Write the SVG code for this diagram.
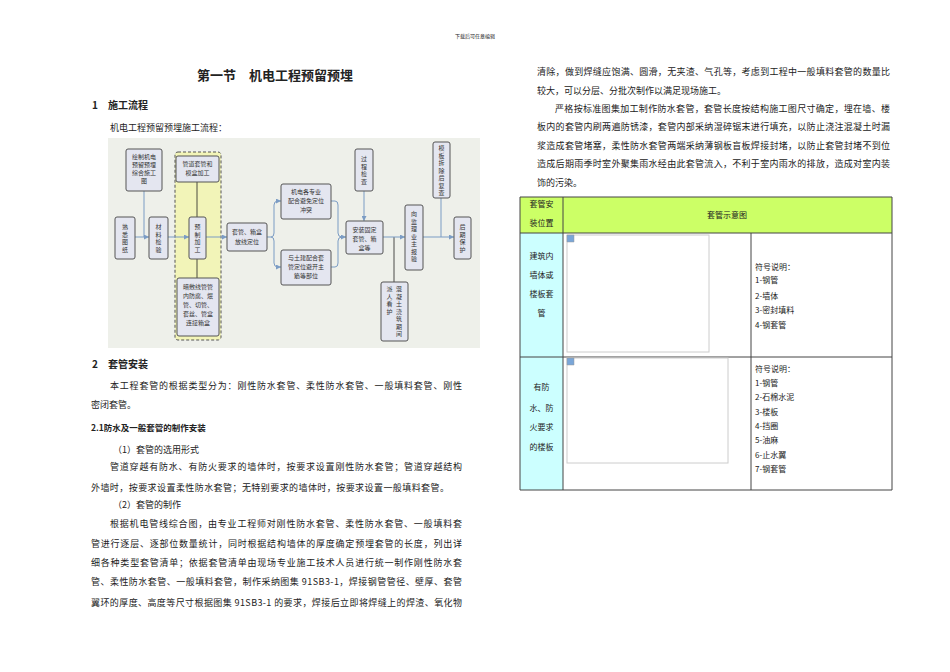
<svg xmlns="http://www.w3.org/2000/svg" width="950" height="672" viewBox="0 0 950 672">
<style>
text{font-family:"Noto Sans CJK SC","Liberation Serif",serif;fill:#222}
.b{font-size:9px}
.h{font-size:10px;font-weight:bold}
.s{font-size:8px}
.n rect{fill:#e4e6f0;stroke:#555;stroke-width:1}
.n text{font-size:6px;fill:#333;text-anchor:middle}
.c{fill:none;stroke:#7b9cc4;stroke-width:1}
.k{fill:none;stroke:#222;stroke-width:0.8}
.m{text-anchor:middle}
</style>
<defs>
<marker id="a" viewBox="0 0 6 6" refX="6" refY="3" markerWidth="5" markerHeight="5" orient="auto"><path d="M0,0L6,3L0,6z" fill="#7b9cc4"/></marker>
</defs>
<rect width="950" height="672" fill="#fff"/>
<text x="475" y="38" font-size="5" class="m">下载后可任意编辑</text>
<text x="275" y="80" font-size="13" font-weight="bold" class="m">第一节　机电工程预留预埋</text>
<text x="92" y="109" class="h">1　施工流程</text>
<text x="110" y="131" class="b">机电工程预留预埋施工流程：</text>
<rect x="108" y="138" width="372" height="210" fill="#eef0ea"/>
<rect x="175" y="152" width="46" height="188" rx="3" fill="#f2f4b8" stroke="#555" stroke-dasharray="3,2"/>
<g id="connectors">
<path class="k" d="M197,182V217M197,259V278M394,237V282"/>
<path class="c" d="M135,237H149" marker-end="url(#a)"/>
<path class="c" d="M144,191V237"/>
<path class="c" d="M168,237H189" marker-end="url(#a)"/>
<path class="c" d="M206,237H227" marker-end="url(#a)"/>
<path class="c" d="M267,237H271Q274,237 274,233V205Q274,201 278,201H281" marker-end="url(#a)"/>
<path class="c" d="M271,237Q274,237 274,241V263Q274,267 278,267H281" marker-end="url(#a)"/>
<path class="c" d="M331,201H335Q338,201 338,205V233Q338,237 342,237H346" marker-end="url(#a)"/>
<path class="c" d="M331,267H335Q338,267 338,263V241Q338,237 342,237"/>
<path class="c" d="M364,191V221" marker-end="url(#a)"/>
<path class="c" d="M383,237H405" marker-end="url(#a)"/>
<path class="c" d="M423,237H454" marker-end="url(#a)"/>
<path class="c" d="M441,198V237"/>
</g>
<g id="n1" class="n"><rect x="115" y="217" width="20" height="42" rx="2"/><text y="229"><tspan x="125">熟</tspan><tspan x="125" dy="7.5">悉</tspan><tspan x="125" dy="7.5">图</tspan><tspan x="125" dy="7.5">纸</tspan></text></g>
<g id="n2" class="n"><rect x="126" y="149" width="36" height="42" rx="2"/><text x="144" y="159">绘制机电</text><text x="144" y="167">预留预埋</text><text x="144" y="175">综合施工</text><text x="144" y="183">图</text></g>
<g id="n3" class="n"><rect x="149" y="217" width="19" height="42" rx="2"/><text y="229"><tspan x="158.5">材</tspan><tspan x="158.5" dy="7.5">料</tspan><tspan x="158.5" dy="7.5">检</tspan><tspan x="158.5" dy="7.5">验</tspan></text></g>
<g id="n4" class="n"><rect x="176" y="156" width="43" height="26" rx="2"/><text x="197.5" y="166">管道套管和</text><text x="197.5" y="175">模盒加工</text></g>
<g id="n5" class="n"><rect x="189" y="217" width="17" height="42" rx="2"/><text y="229"><tspan x="197.5">预</tspan><tspan x="197.5" dy="7.5">制</tspan><tspan x="197.5" dy="7.5">加</tspan><tspan x="197.5" dy="7.5">工</tspan></text></g>
<g id="n6" class="n"><rect x="177" y="278" width="42" height="58" rx="2"/><text x="198" y="289">暗敷线管管</text><text x="198" y="298">内防腐、煨</text><text x="198" y="307">管、切管、</text><text x="198" y="316">套丝、管盒</text><text x="198" y="325">连接箱盒</text></g>
<g id="n7" class="n"><rect x="227" y="223" width="40" height="28" rx="2"/><text x="247" y="234">套管、箱盒</text><text x="247" y="244">放线定位</text></g>
<g id="n8" class="n"><rect x="281" y="184" width="50" height="35" rx="2"/><text x="306" y="194">机电各专业</text><text x="306" y="203">配合避免定位</text><text x="306" y="212">冲突</text></g>
<g id="n9" class="n"><rect x="281" y="250" width="50" height="35" rx="2"/><text x="306" y="260">与土建配合套</text><text x="306" y="269">管定位避开主</text><text x="306" y="278">筋等部位</text></g>
<g id="n10" class="n"><rect x="355" y="149" width="18" height="42" rx="2"/><text y="161"><tspan x="364">过</tspan><tspan x="364" dy="7.5">程</tspan><tspan x="364" dy="7.5">检</tspan><tspan x="364" dy="7.5">查</tspan></text></g>
<g id="n11" class="n"><rect x="346" y="221" width="37" height="33" rx="2"/><text x="364.5" y="232">安装固定</text><text x="364.5" y="241">套管、箱</text><text x="364.5" y="250">盒等</text></g>
<g id="n12" class="n"><rect x="381" y="282" width="27" height="59" rx="2"/><text y="291"><tspan x="399">混</tspan><tspan x="399" dy="7.5">凝</tspan><tspan x="399" dy="7.5">土</tspan><tspan x="399" dy="7.5">浇</tspan><tspan x="399" dy="7.5">筑</tspan><tspan x="399" dy="7.5">期</tspan><tspan x="399" dy="7.5">间</tspan></text><text y="291"><tspan x="389.5">派</tspan><tspan x="389.5" dy="7.5">人</tspan><tspan x="389.5" dy="7.5">看</tspan><tspan x="389.5" dy="7.5">护</tspan></text></g>
<g id="n13" class="n"><rect x="405" y="205" width="18" height="65" rx="2"/><text y="216"><tspan x="414">向</tspan><tspan x="414" dy="7.5">监</tspan><tspan x="414" dy="7.5">理</tspan><tspan x="414" dy="7.5">业</tspan><tspan x="414" dy="7.5">主</tspan><tspan x="414" dy="7.5">报</tspan><tspan x="414" dy="7.5">验</tspan></text></g>
<g id="n14" class="n"><rect x="433" y="142" width="17" height="56" rx="2"/><text y="150"><tspan x="441.5">模</tspan><tspan x="441.5" dy="7.5">板</tspan><tspan x="441.5" dy="7.5">拆</tspan><tspan x="441.5" dy="7.5">除</tspan><tspan x="441.5" dy="7.5">后</tspan><tspan x="441.5" dy="7.5">复</tspan><tspan x="441.5" dy="7.5">查</tspan></text></g>
<g id="n15" class="n"><rect x="454" y="217" width="17" height="42" rx="2"/><text y="229"><tspan x="462.5">后</tspan><tspan x="462.5" dy="7.5">期</tspan><tspan x="462.5" dy="7.5">保</tspan><tspan x="462.5" dy="7.5">护</tspan></text></g>

<text x="92" y="368" class="h">2　套管安装</text>
<text x="110" y="389" class="b" textLength="352">本工程套管的根据类型分为：刚性防水套管、柔性防水套管、一般填料套管、刚性</text>
<text x="91" y="408" class="b">密闭套管。</text>
<text x="91" y="431" font-size="8.5" font-weight="bold">2.1防水及一般套管的制作安装</text>
<text x="113" y="453" class="b">（1）套管的选用形式</text>
<text x="110" y="470" class="b" textLength="352">管道穿越有防水、有防火要求的墙体时，按要求设置刚性防水套管；管道穿越结构</text>
<text x="91" y="491" class="b" textLength="358">外墙时，按要求设置柔性防水套管；无特别要求的墙体时，按要求设置一般填料套管。</text>
<text x="113" y="508" class="b">（2）套管的制作</text>
<text x="110" y="527" class="b" textLength="352">根据机电管线综合图，由专业工程师对刚性防水套管、柔性防水套管、一般填料套</text>
<text x="91" y="547" class="b" textLength="371">管进行逐层、逐部位数量统计，同时根据结构墙体的厚度确定预埋套管的长度，列出详</text>
<text x="91" y="566" class="b" textLength="371">细各种类型套管清单；依据套管清单由现场专业施工技术人员进行统一制作刚性防水套</text>
<text x="91" y="585" class="b" textLength="371">管、柔性防水套管、一般填料套管，制作采纳图集 91SB3-1，焊接钢管管径、壁厚、套管</text>
<text x="91" y="606" class="b" textLength="371">翼环的厚度、高度等尺寸根据图集 91SB3-1 的要求，焊接后立即将焊缝上的焊渣、氧化物</text>

<text x="537" y="75" class="b" textLength="353">清除，做到焊缝应饱满、圆滑，无夹渣、气孔等，考虑到工程中一般填料套管的数量比</text>
<text x="537" y="94" class="b">较大，可以分层、分批次制作以满足现场施工。</text>
<text x="555" y="112" class="b" textLength="335">严格按标准图集加工制作防水套管，套管长度按结构施工图尺寸确定，埋在墙、楼</text>
<text x="537" y="130" class="b" textLength="353">板内的套管内刷两遍防锈漆，套管内部采纳湿碎锯末进行填充，以防止浇注混凝土时漏</text>
<text x="537" y="149" class="b" textLength="353">浆造成套管堵塞，柔性防水套管两端采纳薄钢板盲板焊接封堵，以防止套管封堵不到位</text>
<text x="537" y="167" class="b" textLength="353">造成后期雨季时室外聚集雨水经由此套管流入，不利于室内雨水的排放，造成对室内装</text>
<text x="537" y="186" class="b">饰的污染。</text>

<g id="table">
<rect x="520" y="197" width="372" height="36" fill="#ccff66"/>
<rect x="520" y="233" width="43" height="257" fill="#ccffff"/>
<path d="M520,197H892V490H520Z M520,233H892 M563,197V490 M520,357H892 M751,233V490" fill="none" stroke="#444" stroke-width="1"/>
<rect x="567" y="235" width="142" height="117" fill="#fff" stroke="#ccc"/>
<rect x="567" y="358" width="161" height="105" fill="#fff" stroke="#ccc"/>
<path d="M567,235h7v7h-7z" fill="#7aa6d8" stroke="#999" stroke-width="0.5"/>
<path d="M567,358h7v7h-7z" fill="#7aa6d8" stroke="#999" stroke-width="0.5"/>
<text x="541.5" y="207" class="s m">套管安</text>
<text x="541.5" y="226" class="s m">装位置</text>
<text x="727" y="218" class="s m">套管示意图</text>
<text x="541.5" y="259" class="s m">建筑内</text>
<text x="541.5" y="278" class="s m">墙体或</text>
<text x="541.5" y="297" class="s m">楼板套</text>
<text x="541.5" y="316" class="s m">管</text>
<text x="755" y="270" class="s">符号说明：</text>
<text x="755" y="283" class="s">1-钢管</text>
<text x="755" y="299" class="s">2-墙体</text>
<text x="755" y="313" class="s">3-密封填料</text>
<text x="755" y="328" class="s">4-钢套管</text>
<text x="541.5" y="390" class="s m">有防</text>
<text x="541.5" y="411" class="s m">水、防</text>
<text x="541.5" y="430" class="s m">火要求</text>
<text x="541.5" y="450" class="s m">的楼板</text>
<text x="755" y="372" class="s">符号说明：</text>
<text x="755" y="386" class="s">1-钢管</text>
<text x="755" y="400" class="s">2-石棉水泥</text>
<text x="755" y="415" class="s">3-楼板</text>
<text x="755" y="429" class="s">4-挡圈</text>
<text x="755" y="443" class="s">5-油麻</text>
<text x="755" y="458" class="s">6-止水翼</text>
<text x="755" y="472" class="s">7-钢套管</text>
</g>
</svg>
